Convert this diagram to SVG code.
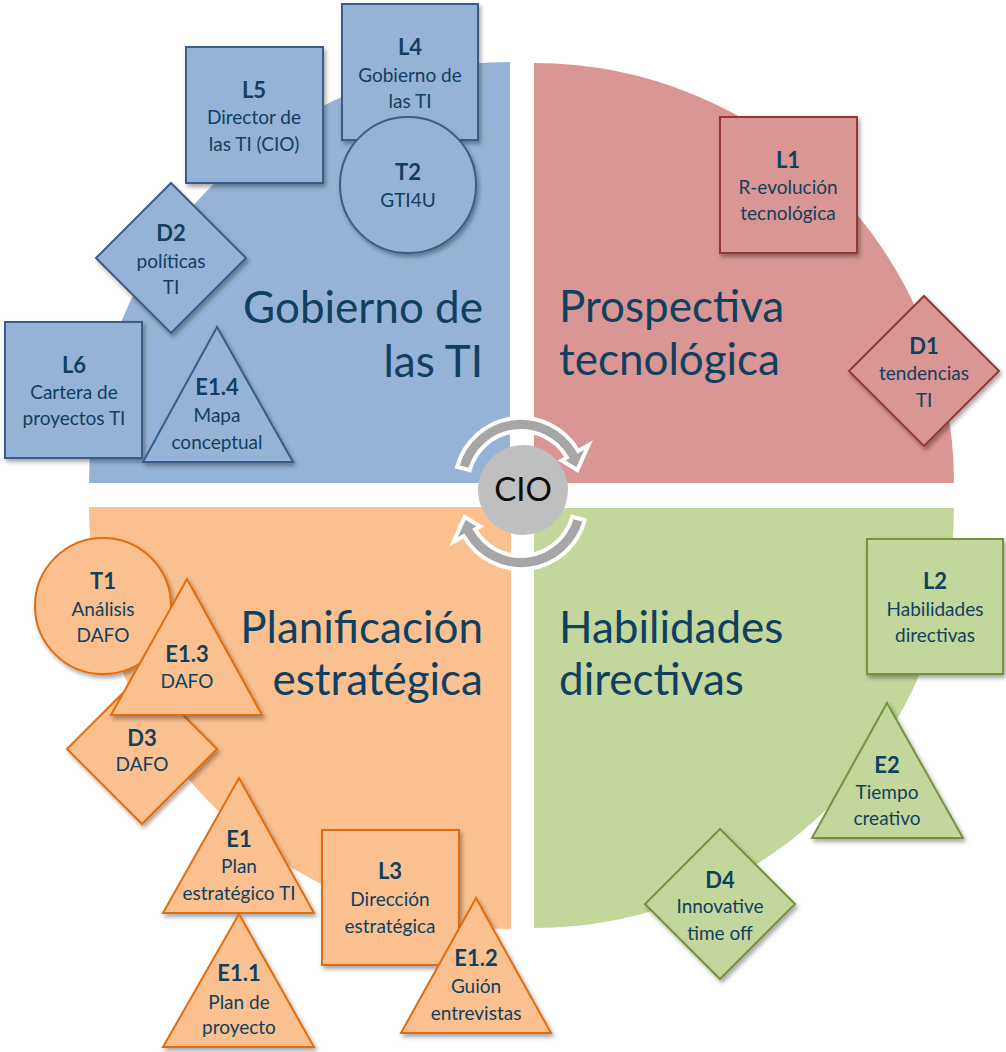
<svg xmlns="http://www.w3.org/2000/svg" width="1006" height="1052" viewBox="0 0 1006 1052">
<defs>
<filter id="sh" x="-20%" y="-20%" width="150%" height="150%">
<feDropShadow dx="2" dy="3" stdDeviation="2" flood-color="#000" flood-opacity="0.35"/>
</filter>
<style>
text{font-family:Lato,"Open Sans","Liberation Sans",sans-serif;fill:#10405F;text-anchor:middle}
.h{font-size:22px;font-weight:bold}
.b{font-size:19px}
.t{font-size:44px}
.sb{fill:#95B3D7;stroke:#385D8A;stroke-width:2;filter:url(#sh)}
.sr{fill:#D99694;stroke:#953735;stroke-width:2;filter:url(#sh)}
.sg{fill:#C3D69B;stroke:#77933C;stroke-width:2;filter:url(#sh)}
.so{fill:#FAC090;stroke:#E46C0A;stroke-width:2;filter:url(#sh)}
.arr{fill:#A6A6A6;stroke:#FFFFFF;stroke-width:4;stroke-linejoin:miter}
</style>
</defs>
<rect width="1006" height="1052" fill="#FFFFFF"/>

<g id="quadrants">
<path id="q-gobierno" d="M510,483 L89,483 A421,421 0 0 1 510,62 Z" fill="#95B3D7"/>
<path id="q-prospectiva" d="M534,483 L534,63 A420,420 0 0 1 954,483 Z" fill="#D99694"/>
<path id="q-habilidades" d="M534,508 L954,508 A420,420 0 0 1 534,928 Z" fill="#C3D69B"/>
<path id="q-planificacion" d="M511,507 L511,929 A422,422 0 0 1 89,507 Z" fill="#FAC090"/>
<text class="t" x="483" y="323" style="text-anchor:end">Gobierno de</text>
<text class="t" x="483" y="377" style="text-anchor:end">las TI</text>
<text class="t" x="559" y="322" style="text-anchor:start">Prospectiva</text>
<text class="t" x="559" y="375" style="text-anchor:start">tecnológica</text>
<text class="t" x="483" y="643" style="text-anchor:end">Planificación</text>
<text class="t" x="483" y="695" style="text-anchor:end">estratégica</text>
<text class="t" x="559" y="643" style="text-anchor:start">Habilidades</text>
<text class="t" x="559" y="695" style="text-anchor:start">directivas</text>
</g>

<g id="connectors">
<path class="arr" d="M457.2,466.9 A66,66 0 0 1 578.2,451 L588.5,445 L577.3,470 L561.7,460.5 L566.9,457.5 A53,53 0 0 0 469.8,470.3 Z"/>
<path class="arr" transform="rotate(180 521 493.5)" d="M457.2,466.9 A66,66 0 0 1 578.2,451 L588.5,445 L577.3,470 L561.7,460.5 L566.9,457.5 A53,53 0 0 0 469.8,470.3 Z"/>
</g>

<g id="cio">
<circle cx="523" cy="490" r="45" fill="#BFBFBF"/>
<text x="523" y="501" style="font-size:33px;fill:#0D0D0D">CIO</text>
</g>

<g id="L5">
<rect class="sb" x="186" y="47" width="137" height="136"/>
<text class="h" x="254" y="98">L5</text>
<text class="b" x="254" y="124">Director de</text>
<text class="b" x="254" y="151">las TI (CIO)</text>
</g>
<g id="L4">
<rect class="sb" x="342" y="4" width="136" height="136"/>
<text class="h" x="410" y="55">L4</text>
<text class="b" x="410" y="82">Gobierno de</text>
<text class="b" x="410" y="108">las TI</text>
</g>
<g id="T2">
<circle class="sb" cx="408" cy="185" r="68"/>
<text class="h" x="408" y="180">T2</text>
<text class="b" x="408" y="207">GTI4U</text>
</g>
<g id="D2">
<polygon class="sb" points="171,183 246,258 171,333 96,258"/>
<text class="h" x="171" y="241">D2</text>
<text class="b" x="171" y="268">políticas</text>
<text class="b" x="171" y="294">TI</text>
</g>
<g id="L6">
<rect class="sb" x="5" y="322" width="137" height="136"/>
<text class="h" x="74" y="373">L6</text>
<text class="b" x="74" y="399">Cartera de</text>
<text class="b" x="74" y="425">proyectos TI</text>
</g>
<g id="E1.4">
<polygon class="sb" points="217,327 293,462 143,462"/>
<text class="h" x="217" y="395">E1.4</text>
<text class="b" x="217" y="422">Mapa</text>
<text class="b" x="217" y="449">conceptual</text>
</g>

<g id="L1">
<rect class="sr" x="720" y="117" width="137" height="136"/>
<text class="h" x="788" y="168">L1</text>
<text class="b" x="788" y="194">R-evolución</text>
<text class="b" x="788" y="220">tecnológica</text>
</g>
<g id="D1">
<polygon class="sr" points="924,296 999,371 924,446 849,371"/>
<text class="h" x="924" y="354">D1</text>
<text class="b" x="924" y="380">tendencias</text>
<text class="b" x="924" y="407">TI</text>
</g>

<g id="T1">
<circle class="so" cx="103" cy="606" r="68"/>
<text class="h" x="103" y="589">T1</text>
<text class="b" x="103" y="616">Análisis</text>
<text class="b" x="103" y="642">DAFO</text>
</g>
<g id="D3">
<polygon class="so" points="142,674 217,749 142,824 67,749"/>
<text class="h" x="142" y="746">D3</text>
<text class="b" x="142" y="771">DAFO</text>
</g>
<g id="E1.3">
<polygon class="so" points="187,579 262,715 111,715"/>
<text class="h" x="187" y="662">E1.3</text>
<text class="b" x="187" y="688">DAFO</text>
</g>
<g id="E1">
<polygon class="so" points="239,778 314,913 163,913"/>
<text class="h" x="239" y="847">E1</text>
<text class="b" x="239" y="873">Plan</text>
<text class="b" x="239" y="900">estratégico TI</text>
</g>
<g id="E1.1">
<polygon class="so" points="239,914 314,1047 163,1047"/>
<text class="h" x="239" y="981">E1.1</text>
<text class="b" x="239" y="1009">Plan de</text>
<text class="b" x="239" y="1034">proyecto</text>
</g>
<g id="L3">
<rect class="so" x="322" y="830" width="137" height="135"/>
<text class="h" x="390" y="879">L3</text>
<text class="b" x="390" y="906">Dirección</text>
<text class="b" x="390" y="933">estratégica</text>
</g>
<g id="E1.2">
<polygon class="so" points="476,898 551,1033 401,1033"/>
<text class="h" x="476" y="966">E1.2</text>
<text class="b" x="476" y="993">Guión</text>
<text class="b" x="476" y="1020">entrevistas</text>
</g>

<g id="L2">
<rect class="sg" x="867" y="539" width="136" height="135"/>
<text class="h" x="935" y="589">L2</text>
<text class="b" x="935" y="616">Habilidades</text>
<text class="b" x="935" y="642">directivas</text>
</g>
<g id="E2">
<polygon class="sg" points="887,703 963,838 812,838"/>
<text class="h" x="887" y="773">E2</text>
<text class="b" x="887" y="799">Tiempo</text>
<text class="b" x="887" y="825">creativo</text>
</g>
<g id="D4">
<polygon class="sg" points="720,829 795,904 720,979 645,904"/>
<text class="h" x="720" y="888">D4</text>
<text class="b" x="720" y="913">Innovative</text>
<text class="b" x="720" y="940">time off</text>
</g>
</svg>
